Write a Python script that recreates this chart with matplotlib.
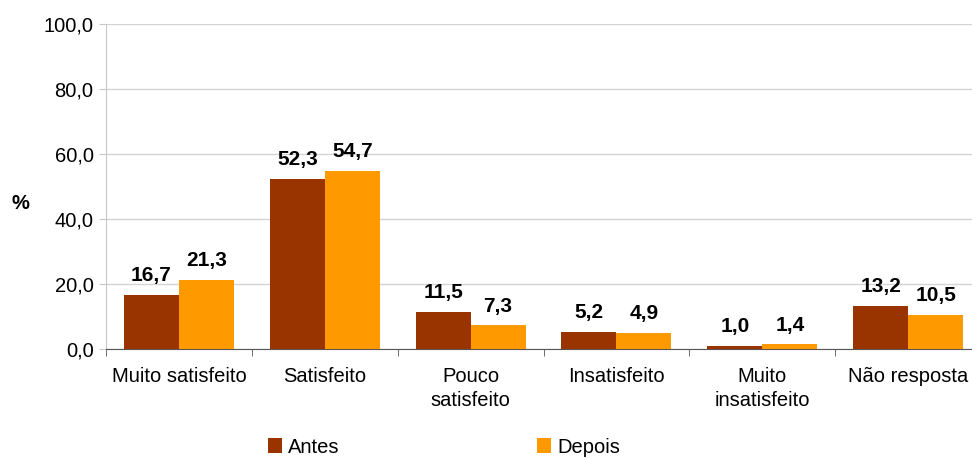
import matplotlib.pyplot as plt
import numpy as np

plt.rcParams['font.family'] = ['Liberation Sans', 'DejaVu Sans']

categorias = ['Muito satisfeito', 'Satisfeito', 'Pouco\nsatisfeito', 'Insatisfeito',
              'Muito\ninsatisfeito', 'Não resposta']
antes = [16.7, 52.3, 11.5, 5.2, 1.0, 13.2]
depois = [21.3, 54.7, 7.3, 4.9, 1.4, 10.5]


def virgula(v):
    return ('%.1f' % v).replace('.', ',')


fig = plt.figure(figsize=(9.72, 4.59), dpi=100)
ax = fig.add_axes([0.1091, 0.2397, 0.9002, 0.7080])

x = np.arange(len(categorias))
w = 0.377
b1 = ax.bar(x - w / 2, antes, w, color='#993300', label='Antes', zorder=3)
b2 = ax.bar(x + w / 2, depois, w, color='#FF9900', label='Depois', zorder=3)

# rótulos de dados
for bars in (b1, b2):
    for rect in bars:
        h = rect.get_height()
        ax.annotate(virgula(h), (rect.get_x() + rect.get_width() / 2, h),
                    xytext=(0, 7), textcoords='offset points',
                    ha='center', va='bottom', fontsize=15, fontweight='bold')

ax.set_xlim(-0.5, len(categorias) - 0.5)
ax.set_ylim(0, 100)
ax.set_yticks(np.arange(0, 101, 20))
ax.set_yticklabels([virgula(v) for v in np.arange(0, 101, 20)])
ax.yaxis.grid(True, color='#d4d4d4', linewidth=1, zorder=0)

ax.set_xticks(x)
ax.set_xticklabels(categorias, linespacing=1.35)
ax.set_xticks(np.arange(-0.5, len(categorias)), minor=True)
ax.tick_params(axis='x', which='major', length=0, pad=13, labelsize=14.5)
ax.tick_params(axis='x', which='minor', length=5, color='#555555')
ax.tick_params(axis='y', length=5, color='#c8c8c8', labelsize=14.5, pad=4)

for s in ('top', 'right'):
    ax.spines[s].set_visible(False)
ax.spines['left'].set_color('#c8c8c8')
ax.spines['bottom'].set_color('#555555')

fig.text(0.021, 0.557, '%', fontsize=14.5, fontweight='bold', ha='center', va='center')

fig.legend(loc='center', bbox_to_anchor=(0.457, 0.026), ncol=2, frameon=False,
           fontsize=14.5, handlelength=0.7, handleheight=0.7, handletextpad=0.3,
           columnspacing=9.8, borderpad=0.2)

fig.savefig('out.png', dpi=100)
